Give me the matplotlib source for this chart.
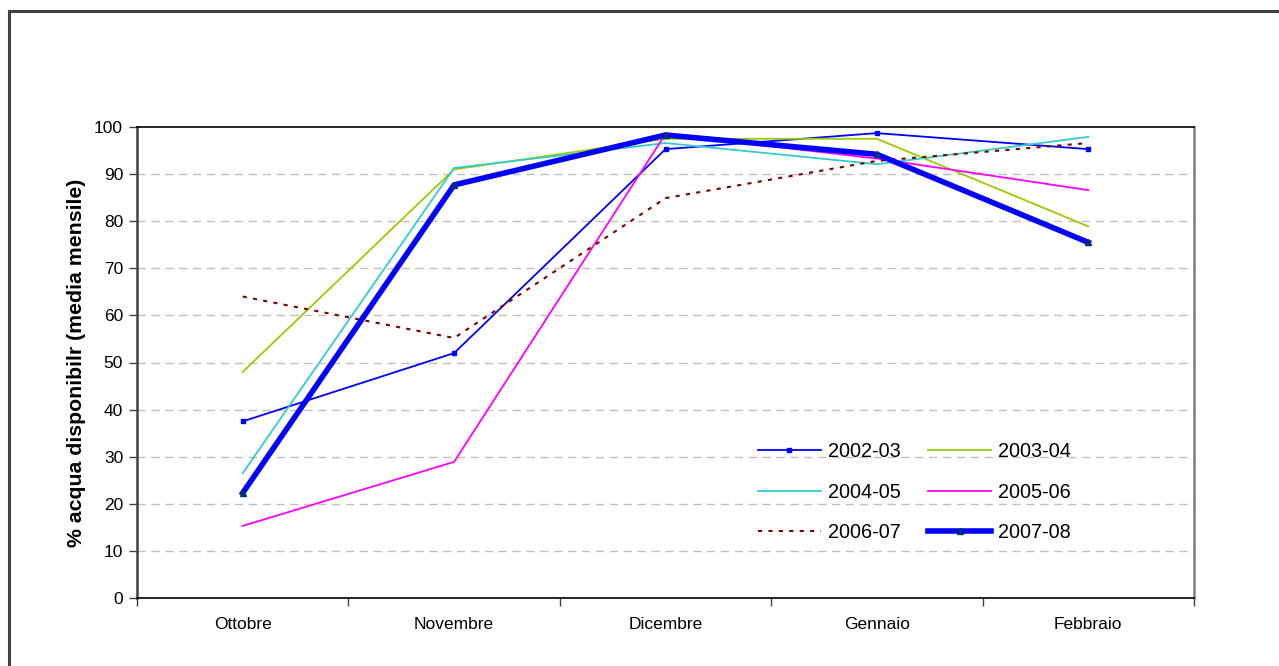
import matplotlib
matplotlib.use('Agg')
import matplotlib.pyplot as plt
from matplotlib.lines import Line2D

plt.rcParams['font.family'] = ['Liberation Sans', 'DejaVu Sans']

months = ['Ottobre', 'Novembre', 'Dicembre', 'Gennaio', 'Febbraio']

s2002 = [37.5, 52.0, 95.3, 98.7, 95.3]
s2003 = [48.0, 91.0, 97.5, 97.5, 78.9]
s2004 = [26.5, 91.3, 96.6, 92.1, 97.9]
s2005 = [15.3, 28.9, 98.5, 93.3, 86.6]
s2006 = [64.0, 55.2, 84.9, 92.8, 96.6]
s2007 = [22.3, 87.7, 98.3, 94.2, 75.5]

fig = plt.figure(figsize=(12.79, 6.66), dpi=100)
ax = fig.add_axes([137/1279, 1-598/666, (1194-137)/1279, (598-127)/666])

x = range(len(months))

l02, = ax.plot(x, s2002, color='#0000ff', lw=1.3, marker='s', ms=3, label='2002-03')
l03, = ax.plot(x, s2003, color='#99cc00', lw=1.3, label='2003-04')
l04, = ax.plot(x, s2004, color='#33cccc', lw=1.3, label='2004-05')
l05, = ax.plot(x, s2005, color='#ff00ff', lw=1.3, label='2005-06')
l06, = ax.plot(x, s2006, color='#800000', lw=1.5, ls=(0, (2, 3)), label='2006-07')
l07, = ax.plot(x, s2007, color='#0000ff', lw=4, marker='^', ms=5,
               mfc='#003366', mec='#003366', label='2007-08')

ax.set_xlim(-0.5, len(months) - 0.5)
ax.set_ylim(0, 100)
ax.set_yticks(range(0, 101, 10))
ax.set_xticks(list(x))
ax.set_xticklabels(months)
ax.set_xticks([i - 0.5 for i in range(len(months) + 1)], minor=True)
ax.tick_params(axis='x', which='major', length=0, pad=14, labelsize=12.5)
ax.tick_params(axis='x', which='minor', length=6, width=1, color='#404040', direction='out')
ax.tick_params(axis='y', length=6, width=1, color='#404040', direction='out', labelsize=12.5, pad=4)

for yv in range(10, 100, 10):
    ax.axhline(yv, color='#c0c0c0', lw=1, ls=(0, (6, 4)), zorder=0)

ax.spines['top'].set_color('black')
ax.spines['top'].set_linewidth(1.2)
ax.spines['bottom'].set_color('black')
ax.spines['bottom'].set_linewidth(1.2)
ax.spines['left'].set_color('#404040')
ax.spines['left'].set_linewidth(1.8)
ax.spines['right'].set_color('#808080')
ax.spines['right'].set_linewidth(1.8)

ax.set_ylabel('% acqua disponibilr (media mensile)', fontsize=15.3, fontweight='bold', labelpad=6)

# legend filled row by row, as in the original
handles = [l02, l04, l06, l03, l05, l07]
ax.legend(handles, [h.get_label() for h in handles],
          loc='upper left', bbox_to_anchor=(740/1279, 1-424/666), bbox_transform=fig.transFigure,
          ncol=2, frameon=False, fontsize=14.3, handlelength=3.17, columnspacing=1.4,
          labelspacing=1.09, handletextpad=0.35)

# outer frame of the chart area
fig.add_artist(Line2D([9/1279, 9/1279], [0, 1-11/666], color='#404040', lw=2.2))
fig.add_artist(Line2D([9/1279, 1], [1-11/666, 1-11/666], color='#404040', lw=2.2))

fig.savefig('out.png', dpi=100)
